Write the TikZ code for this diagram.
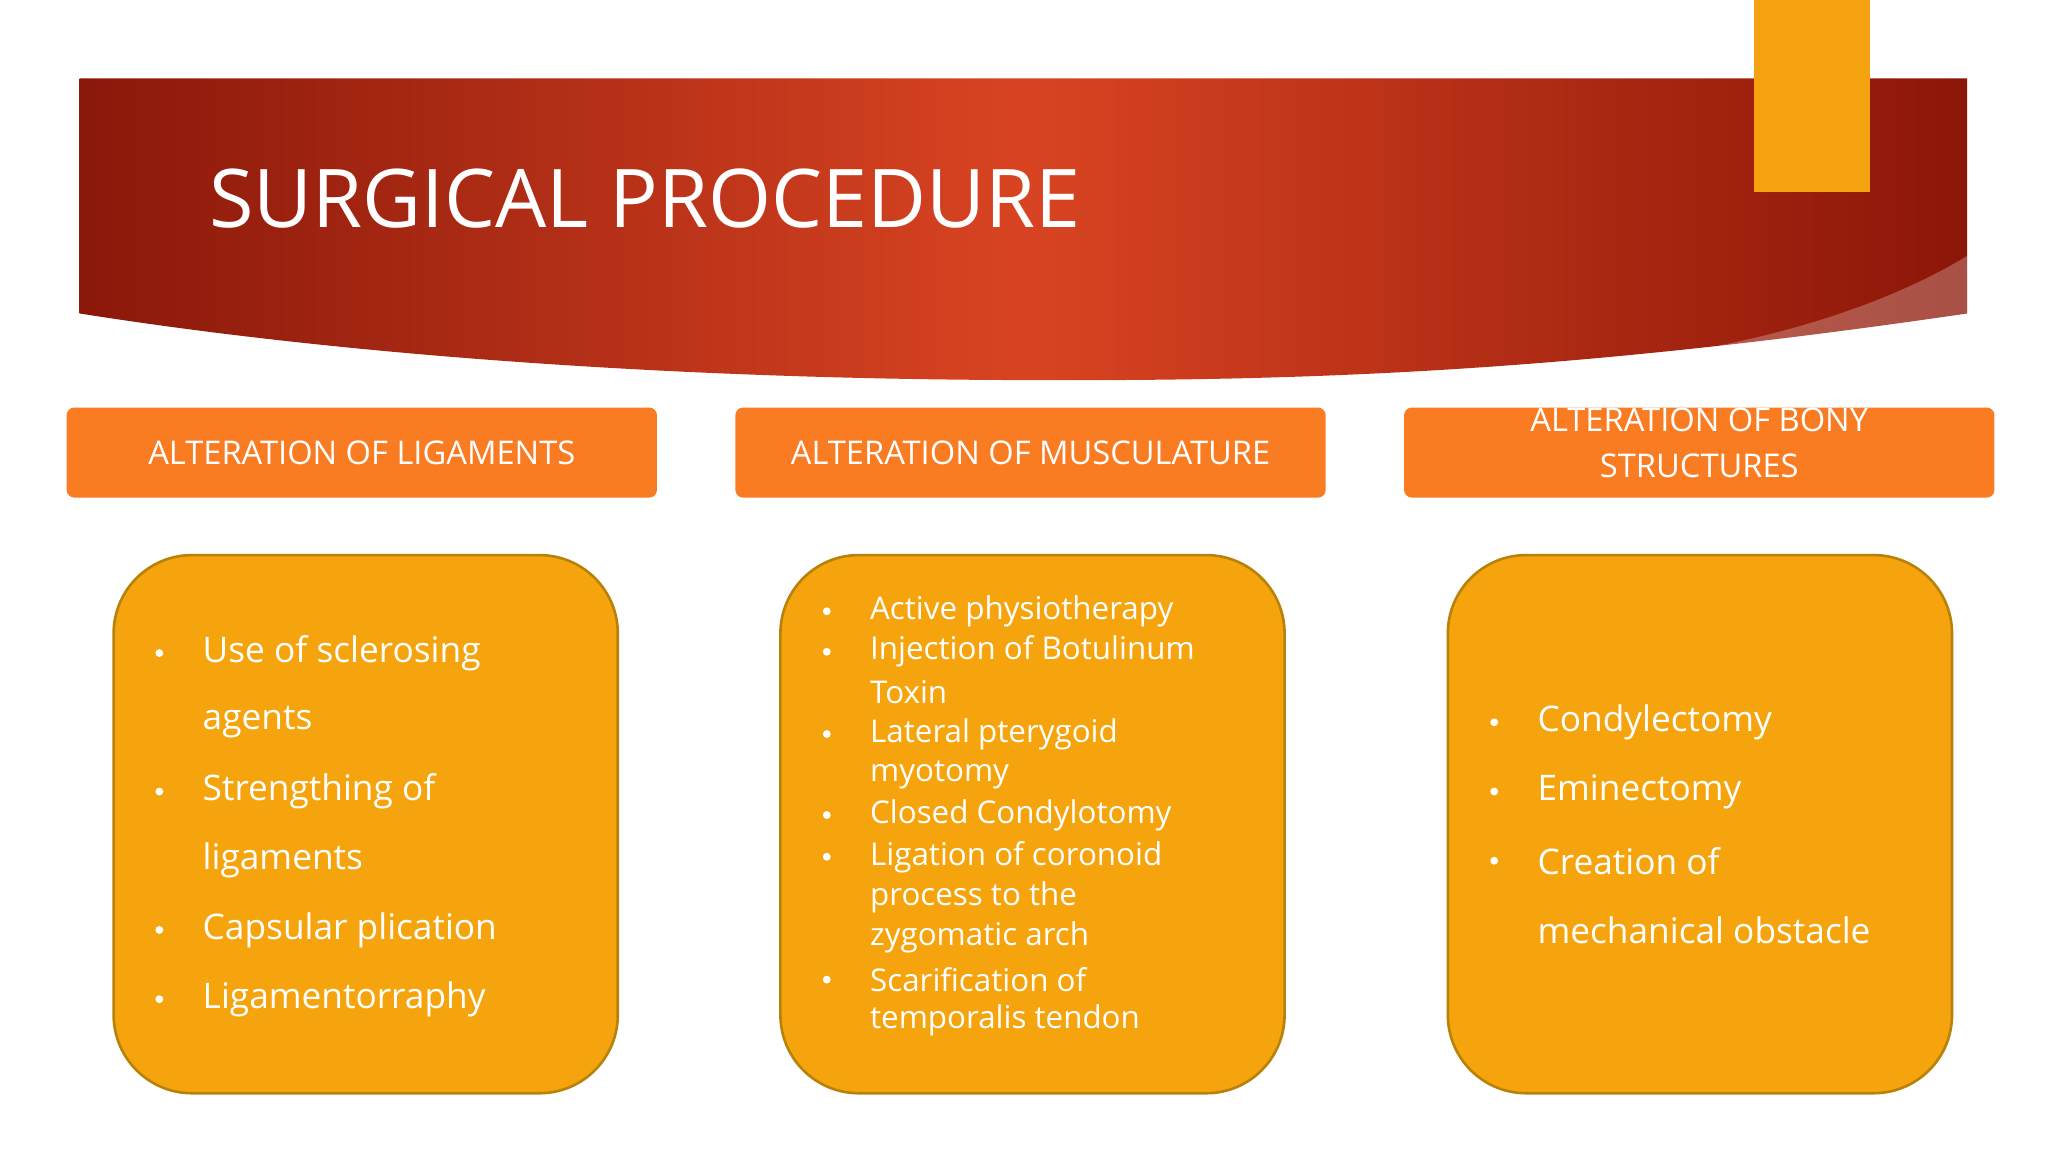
\documentclass[tikz,border=0pt]{standalone}
\usepackage{fontspec}
\setmainfont{Open Sans}
\begin{document}
\begin{tikzpicture}[x=1pt,y=-1pt,
  hdr/.style={draw=none,fill=hdrorange,rounded corners=6pt,minimum width=452pt,minimum height=69pt,text=white,font=\fontsize{25}{27}\selectfont,align=center,inner sep=0pt},
  card/.style={draw=cardedge,line width=2pt,fill=cardfill,rounded corners=60pt,minimum width=386pt,minimum height=412pt,inner sep=0pt},
  big/.style={text=white,font=\fontsize{27}{30}\selectfont,anchor=west,inner sep=0pt},
  small/.style={text=white,font=\fontsize{24}{27}\selectfont,anchor=west,inner sep=0pt},
  dot/.style={circle,fill=white,inner sep=0pt,minimum size=6pt}]
\definecolor{hdrorange}{HTML}{F97B22}
\definecolor{cardfill}{HTML}{F5A40D}
\definecolor{cardedge}{HTML}{B8820A}
\definecolor{bandl}{HTML}{8A180A}
\definecolor{bandm}{HTML}{D84422}
\definecolor{bandr}{HTML}{8C1608}
\definecolor{tab}{HTML}{F4A20F}
\useasboundingbox (0,0) rectangle (1568,882);
\fill[white] (0,0) rectangle (1568,882);
% banner
\shade[left color=bandl,right color=bandr,middle color=bandm]
  (61,60) -- (1506,60) -- (1506,240) .. controls (1200,285) and (1000,292) .. (780,291)
  .. controls (500,290) and (250,270) .. (61,240) -- cycle;
\fill[white,opacity=0.25] (1180,283) .. controls (1350,270) and (1450,230) .. (1506,196) -- (1506,240) .. controls (1400,258) and (1300,272) .. (1180,283) -- cycle;
\node[text=white,anchor=west,font=\fontsize{62}{64}\selectfont,inner sep=0pt] (title) at (160,152) {SURGICAL PROCEDURE};
\fill[tab] (1343,0) rectangle (1432,147);
% headers
\node[hdr] (h1) at (277,346.5) {ALTERATION OF LIGAMENTS};
\node[hdr] (h2) at (789,346.5) {ALTERATION OF MUSCULATURE};
\node[hdr] (h3) at (1301,346.5) {};
\begin{scope}
\clip (1075,312) rectangle (1527,381);
\node[text=white,font=\fontsize{25}{35}\selectfont,align=center] (h3t) at (1301,339) {ALTERATION OF BONY\\STRUCTURES};
\end{scope}
% cards
\node[card] (c1) at (280,631) {};
\node[card] (c2) at (790.5,631) {};
\node[card] (c3) at (1301.5,631) {};
% card 1
\foreach \y in {500,606,712,765} \node[dot] at (122,\y) {};
\node[big] (a1) at (155,500) {Use of sclerosing};
\node[big] (a2) at (155,553) {agents};
\node[big] (a3) at (155,606) {Strengthing of};
\node[big] (a4) at (155,659) {ligaments};
\node[big] (a5) at (155,712) {Capsular plication};
\node[big] (a6) at (155,765) {Ligamentorraphy};
% card 2
\foreach \y in {468,499,562,624,656,750} \node[dot] at (633,\y) {};
\node[small] (b1) at (666,468) {Active physiotherapy};
\node[small] (b2) at (666,499) {Injection of Botulinum};
\node[small] (b3) at (666,530) {Toxin};
\node[small] (b4) at (666,562) {Lateral pterygoid};
\node[small] (b5) at (666,593) {myotomy};
\node[small] (b6) at (666,624) {Closed Condylotomy};
\node[small] (b7) at (666,656) {Ligation of coronoid};
\node[small] (b8) at (666,687) {process to the};
\node[small] (b9) at (666,718) {zygomatic arch};
\node[small] (b10) at (666,750) {Scarification of};
\node[small] (b11) at (666,781) {temporalis tendon};
% card 3
\foreach \y in {553,606,659} \node[dot] at (1144,\y) {};
\node[big] (d1) at (1177,553) {Condylectomy};
\node[big] (d2) at (1177,606) {Eminectomy};
\node[big] (d3) at (1177,659) {Creation of};
\node[big] (d4) at (1177,712) {mechanical obstacle};
\end{tikzpicture}
\end{document}
